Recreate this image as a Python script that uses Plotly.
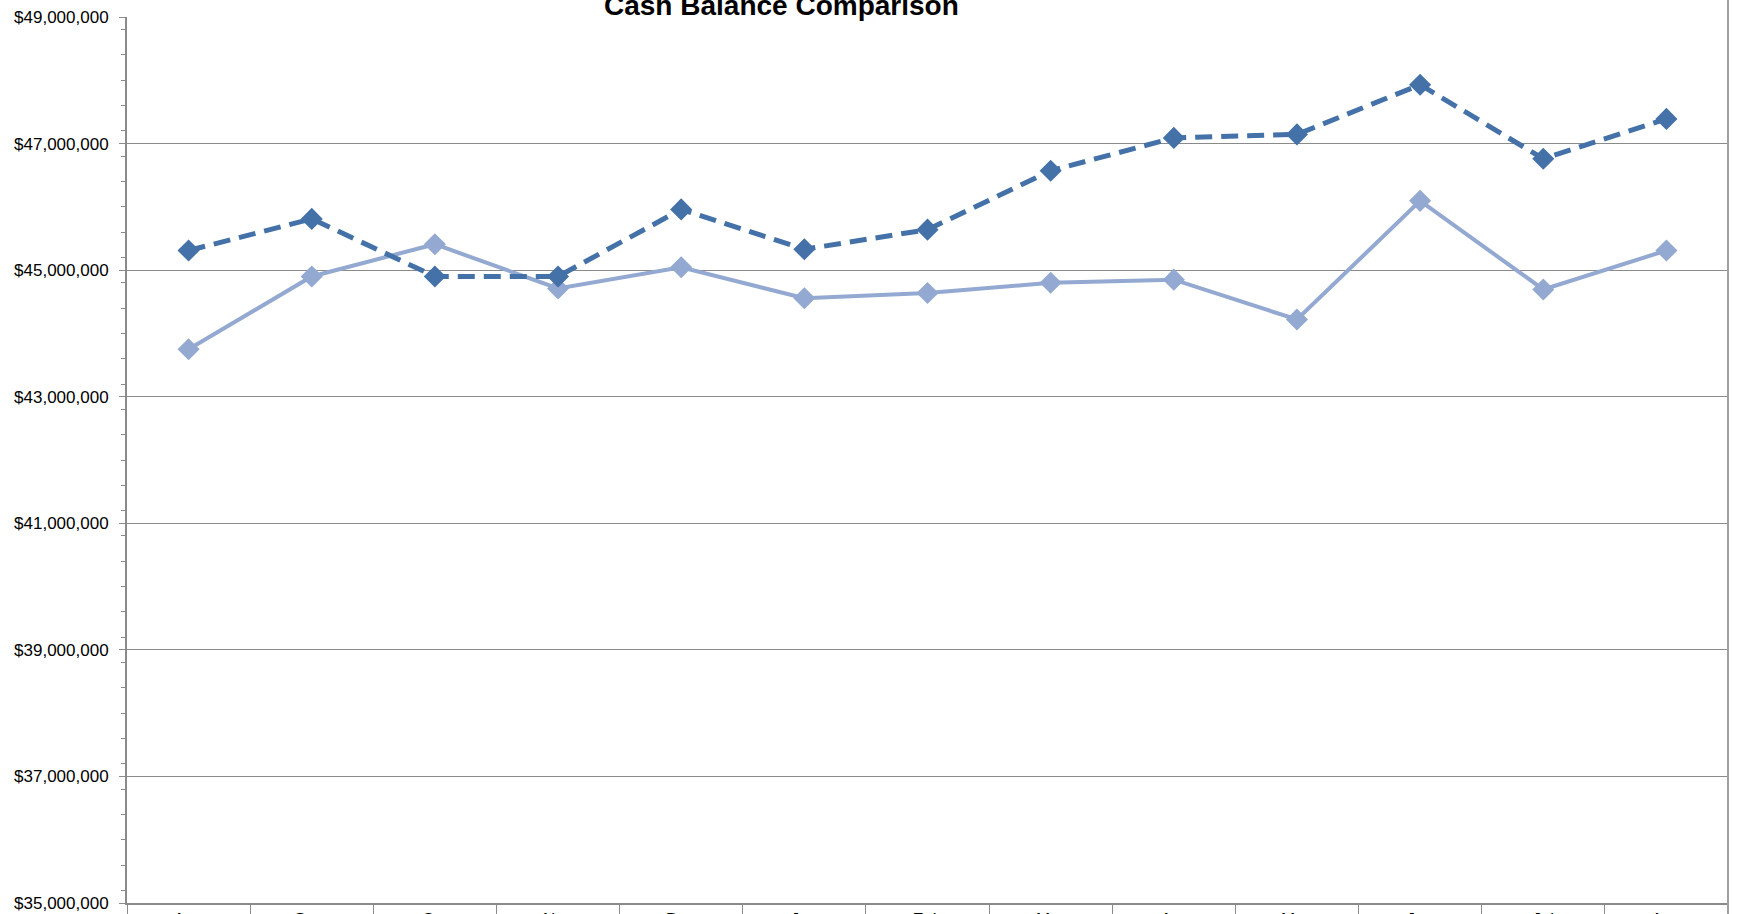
import plotly.graph_objects as go

months = ["Aug", "Sept", "Oct", "Nov", "Dec", "Jan", "Feb", "Mar", "Apr", "May", "Jun", "Jul", "Aug"]
series_dark = [45.31, 45.81, 44.90, 44.90, 45.96, 45.33, 45.64, 46.57, 47.09, 47.145, 47.93, 46.76, 47.39]
series_light = [43.75, 44.90, 45.41, 44.71, 45.045, 44.555, 44.64, 44.80, 44.85, 44.22, 46.095, 44.695, 45.31]
dark_vals = [v * 1e6 for v in series_dark]
light_vals = [v * 1e6 for v in series_light]
x_idx = list(range(len(months)))

DARK = "#4471A8"
LIGHT = "#93A9D1"
GRID = "#8A8A8A"

fig = go.Figure()
fig.add_trace(go.Scatter(
    x=x_idx, y=light_vals, mode="lines+markers", name="Series 2",
    line=dict(color=LIGHT, width=4),
    marker=dict(symbol="diamond", size=17, color=LIGHT),
))
fig.add_trace(go.Scatter(
    x=x_idx, y=dark_vals, mode="lines+markers", name="Series 1",
    line=dict(color=DARK, width=5, dash="17px,9px"),
    marker=dict(symbol="diamond", size=17, color=DARK),
))

fig.update_layout(
    width=1737, height=914,
    margin=dict(l=127, r=9, t=17, b=11, autoexpand=False),
    plot_bgcolor="white", paper_bgcolor="white",
    showlegend=False,
    font=dict(family="Liberation Sans, Arial, sans-serif", size=17, color="black"),
)

fig.update_xaxes(
    range=[-0.5, 12.5],
    tickvals=x_idx, ticktext=months,
    ticks="", showgrid=False, zeroline=False,
    showline=True, linecolor=GRID, linewidth=2,
    tickfont=dict(size=17),
    minor=dict(tick0=-0.5, dtick=1, ticks="outside", ticklen=14, tickcolor=GRID, tickwidth=1, showgrid=False),
)
fig.update_yaxes(
    range=[35e6, 49e6], dtick=2e6, tick0=35e6,
    tickprefix="$", tickformat=",d",
    showgrid=True, gridcolor=GRID, gridwidth=1, zeroline=False,
    showline=True, linecolor=GRID, linewidth=2,
    ticks="outside", ticklen=6, tickcolor=GRID, tickwidth=1,
    ticklabelstandoff=7,
    tickfont=dict(size=17),
    minor=dict(dtick=4e5, ticks="outside", ticklen=4, tickcolor=GRID, tickwidth=1, showgrid=False),
)

fig.add_shape(type="line", xref="paper", yref="paper", x0=1, x1=1, y0=-0.05, y1=1.05,
              line=dict(color="#A0A0A0", width=2))

fig.add_annotation(
    text="<b>Cash Balance Comparison</b>", xref="paper", yref="paper",
    x=(781 - 127) / 1601, y=1, yanchor="middle", xanchor="center", yshift=12,
    showarrow=False, font=dict(size=28, family="Liberation Sans, Arial, sans-serif", color="black"),
)

fig.write_html("out.html")
